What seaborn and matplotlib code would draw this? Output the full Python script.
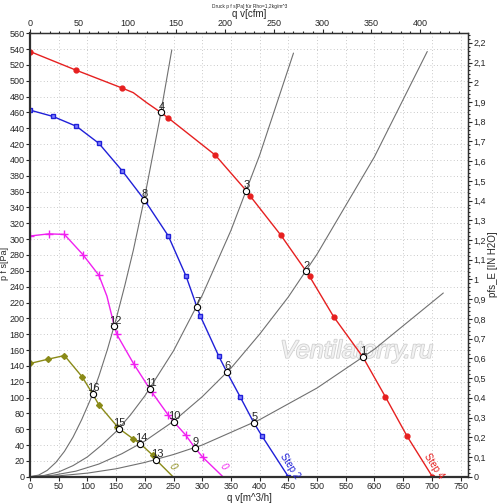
import numpy as np
import pandas as pd
import matplotlib
matplotlib.use('Agg')
import matplotlib.pyplot as plt
import matplotlib.patheffects as pe
from matplotlib.ticker import MultipleLocator, FuncFormatter, FixedLocator
import seaborn as sns

# fan curves (q in m3/h, p in Pa)
red_q = [0, 80, 160, 180, 203, 228, 241, 323, 377, 383, 437, 481, 487, 529, 580, 619, 657, 701]
red_p = [537, 513.5, 491, 485, 472.5, 460, 453, 406, 361, 355, 305, 259.5, 253, 202, 151, 101, 51, 0]
red_mq = [0, 80, 160, 241, 323, 383, 437, 487, 529, 580, 619, 657, 701]
red_mp = [537, 513.5, 491, 453, 406, 355, 305, 253, 202, 151, 101, 51, 0]

blue_q = [0, 40, 81, 120, 161, 199, 241, 272, 291, 297, 329, 343, 366, 390, 404, 450]
blue_p = [463, 455, 442.5, 421, 386, 350, 304, 253, 214, 202.5, 152, 132, 101, 68, 51.5, 0]
blue_mq = [0, 40, 81, 120, 161, 201, 241, 272, 297, 329, 366, 404, 450]
blue_mp = [463, 455, 442.5, 421, 386, 348, 304, 253, 202.5, 152, 101, 51.5, 0]

mag_q = [0, 33, 60, 92, 120, 134, 147, 151, 181, 209, 212, 241, 250, 271, 287, 301, 336]
mag_p = [304, 306.7, 306, 280.6, 254.4, 228, 190, 180, 142, 110.6, 107, 77.7, 69.6, 52.8, 36.7, 24.5, 0]
mag_mq = [0, 33, 60, 92, 120, 151, 181, 212, 241, 271, 301]
mag_mp = [304, 306.7, 306, 280.6, 254.4, 180, 142, 107, 77.7, 52.8, 24.5]

olive_q = [0, 32, 60, 91, 109, 120, 155, 180, 192, 214, 220, 249]
olive_p = [143, 148.5, 153, 126, 104.7, 90.7, 60.8, 47.7, 41.8, 27, 21, 0]
olive_mq = [0, 32, 60, 91, 120, 152, 180, 214]
olive_mp = [143, 148.5, 153, 126, 90.7, 63, 47.7, 27]

# system curves
sysA_q = [0, 15, 30, 45, 60, 75, 90, 105, 120, 135, 150, 165, 180, 200, 225, 247]
sysA_p = [0, 2, 8, 18, 32, 50, 72, 97, 127, 161, 199, 241, 286, 354, 448, 539]
sysB_q = [0, 25, 50, 75, 100, 125, 150, 175, 200, 250, 300, 350, 400, 459]
sysB_p = [0, 1.6, 6, 14, 25, 40, 57, 78, 102, 159, 229, 311, 406, 535]
sysC_q = [0, 40, 80, 120, 160, 200, 250, 300, 350, 400, 450, 500, 600, 692]
sysC_p = [0, 1.8, 7, 16, 29, 45, 70, 101, 137, 180, 227, 281, 404, 537]
sysD_q = [0, 50, 100, 150, 200, 250, 300, 400, 500, 600, 720]
sysD_p = [0, 1.1, 4.5, 10, 18, 28, 40, 72, 112, 161, 232]

# operating points
op_num = list(range(1, 17))
op_q = [580, 481, 377, 228, 390, 343, 291, 199, 287, 250, 209, 147, 220, 192, 155, 109]
op_p = [151, 259.5, 361, 460, 68, 132, 214, 350, 36.7, 69.6, 110.6, 190, 21, 41.8, 60.8, 104.7]

# secondary axis ticks
cfm_ticks = [0, 50, 100, 150, 200, 250, 300, 350, 400]
inh2o_ticks = [0, 0.1, 0.2, 0.3, 0.4, 0.5, 0.6, 0.7, 0.8, 0.9, 1, 1.1, 1.2, 1.3, 1.4, 1.5,
               1.6, 1.7, 1.8, 1.9, 2, 2.1, 2.2]

sns.set_style('white')
plt.rcParams['font.family'] = ['Liberation Sans', 'DejaVu Sans']

fig = plt.figure(figsize=(5, 5.03), dpi=100)
ax = fig.add_axes([0.06, 0.0523, 0.876, 0.8815])

grey = '#707070'
for q, p in [(sysA_q, sysA_p), (sysB_q, sysB_p), (sysC_q, sysC_p), (sysD_q, sysD_p)]:
    sns.lineplot(x=q, y=p, ax=ax, color=grey, lw=0.8, sort=False)

curves = [
    (red_q, red_p, red_mq, red_mp, '#e62020', 'o', 3.5),
    (blue_q, blue_p, blue_mq, blue_mp, '#2020d8', 's', 3.5),
    (mag_q, mag_p, mag_mq, mag_mp, '#f020f0', '+', 6),
    (olive_q, olive_p, olive_mq, olive_mp, '#8a8a18', 'D', 3),
]
for q, p, mq, mp, col, mk, ms in curves:
    sns.lineplot(x=q, y=p, ax=ax, color=col, lw=1.0, sort=False)
    ax.plot(mq, mp, ls='none', marker=mk, ms=ms, color=col, mec=col, mew=1.0,
            markerfacecolor=col if mk != 's' else '#8080ff')

ax.plot(op_q, op_p, ls='none', marker='o', ms=4.5, mfc='white', mec='black', mew=0.8, zorder=5)
for n, q, p in zip(op_num, op_q, op_p):
    ax.annotate(str(n), (q, p), xytext=(0.5, 0.5), textcoords='offset points',
                ha='center', va='bottom', fontsize=8, zorder=6)

ax.text(452, 14, 'Step 2', color='#2020d8', fontsize=7, rotation=-57,
        ha='center', va='center')
ax.text(704, 14, 'Step 4', color='#e62020', fontsize=7, rotation=-57,
        ha='center', va='center')
ax.text(337, 13, '0', color='#f020f0', fontsize=7, rotation=-55, style='italic',
        ha='center', va='center')
ax.text(249, 13, '0', color='#8a8a18', fontsize=7, rotation=-55, style='italic',
        ha='center', va='center')

ax.text(569, 159, 'Ventilatorry.ru', fontsize=18, style='italic', color='#f2f2f2',
        ha='center', va='center', zorder=1,
        path_effects=[pe.withStroke(linewidth=1.2, foreground='#d0d0d0')])

ax.set_xlim(0, 763)
ax.set_ylim(0, 560)
ax.xaxis.set_major_locator(MultipleLocator(50))
ax.xaxis.set_minor_locator(MultipleLocator(10))
ax.yaxis.set_major_locator(MultipleLocator(20))
ax.yaxis.set_minor_locator(MultipleLocator(4))
ax.grid(True, which='major', color='#b8b8b8', lw=0.6, ls=(0, (1, 3)))
ax.tick_params(which='both', direction='out', labelsize=6.5, pad=1, width=0.8)
ax.tick_params(which='major', length=3)
ax.tick_params(which='minor', length=1.5)
ax.tick_params(axis='x', bottom=True)
ax.tick_params(axis='y', left=True)
for s in ax.spines.values():
    s.set_color('#303030')
    s.set_linewidth(1.0)
ax.spines['left'].set_linewidth(1.6)
ax.spines['bottom'].set_linewidth(1.6)

ax.set_xlabel('q v[m^3/h]', fontsize=7)
ax.set_ylabel('p f s[Pa]', fontsize=6.5)
ax.xaxis.set_label_coords(0.5, -0.037)
ax.yaxis.set_label_coords(-0.047, 0.48)

top = ax.secondary_xaxis('top', functions=(lambda x: x / 1.699, lambda x: x * 1.699))
top.xaxis.set_major_locator(FixedLocator(cfm_ticks))
top.xaxis.set_minor_locator(FixedLocator(list(range(0, 450, 10))))
top.tick_params(which='both', direction='out', labelsize=6.5, pad=1, width=0.8)
top.tick_params(which='major', length=3)
top.tick_params(which='minor', length=1.5)
top.set_xlabel('q v[cfm]', fontsize=7)
top.xaxis.set_label_coords(0.5, 1.037, transform=ax.transAxes)

right = ax.secondary_yaxis('right', functions=(lambda y: y / 249.09, lambda y: y * 249.09))
right.yaxis.set_major_locator(FixedLocator(inh2o_ticks))
right.yaxis.set_minor_locator(MultipleLocator(0.02))
right.yaxis.set_major_formatter(FuncFormatter(lambda v, _: f'{v:.1f}'.rstrip('0').rstrip('.').replace('.', ',')))
right.tick_params(which='both', direction='out', labelsize=6.5, pad=1, width=0.8)
right.tick_params(which='major', length=3)
right.tick_params(which='minor', length=1.5)
right.set_ylabel('pfs_E [IN H2O]', fontsize=7, rotation=90, va='center', ha='center')
right.yaxis.set_label_coords(1.056, 0.48, transform=ax.transAxes)

fig.text(0.5, 0.988, 'Druck p f s[Pa] für Rho=1,2kg/m^3', fontsize=3.5, ha='center', va='center')

fig.savefig('out.png', dpi=100)
